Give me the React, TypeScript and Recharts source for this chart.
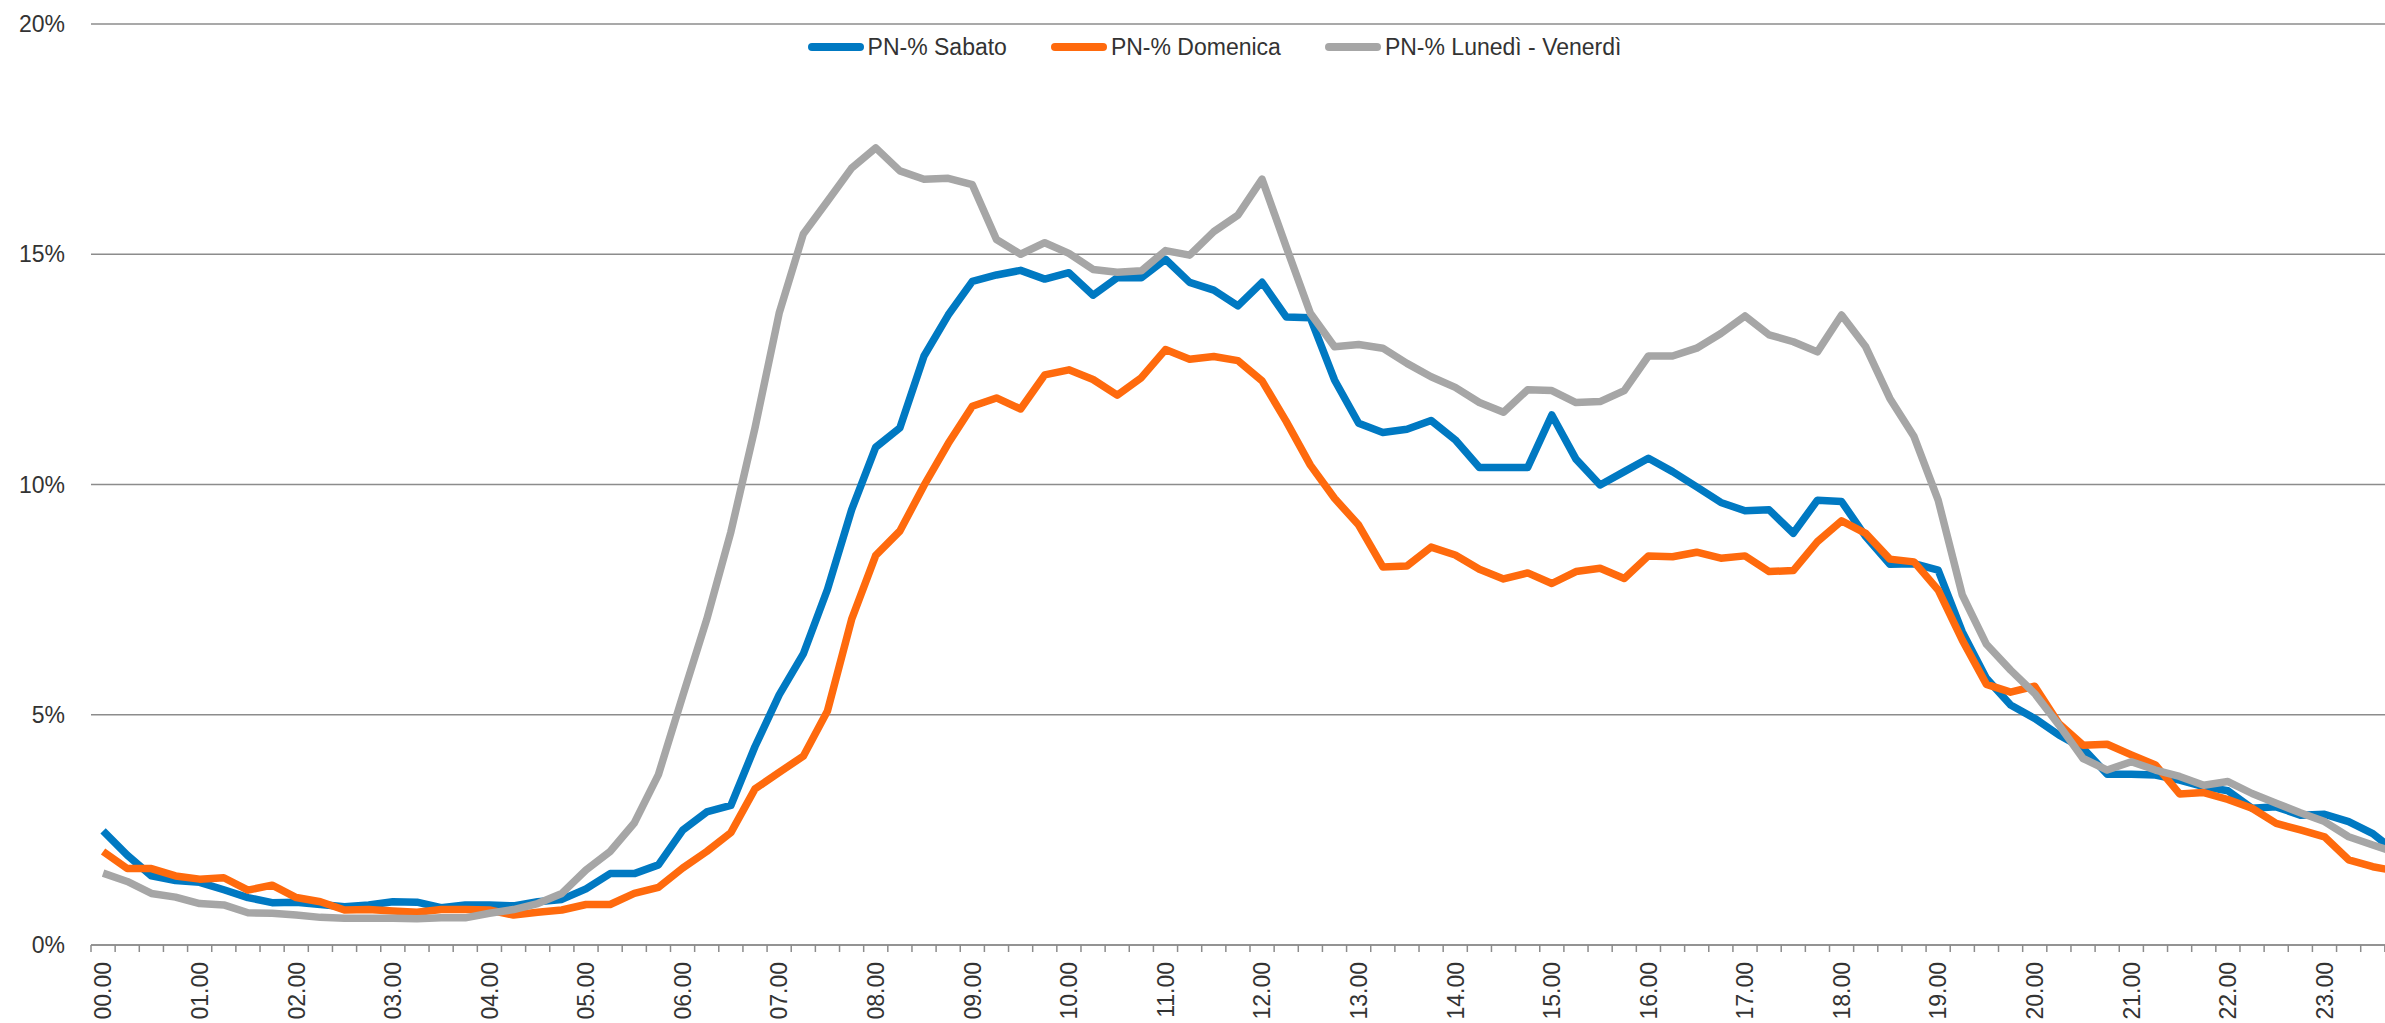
import { LineChart, Line, XAxis, YAxis, CartesianGrid, Legend } from 'recharts';

const FONT = '"Liberation Sans", Arial, sans-serif';

// quarter-hour slots 00.00 ... 23.45
const TIMES = Array.from({ length: 96 }, (_, i) => {
  const h = String(Math.floor(i / 4)).padStart(2, '0');
  const m = String((i % 4) * 15).padStart(2, '0');
  return `${h}.${m}`;
});

const SABATO = [
  2.48, 1.95, 1.5, 1.4, 1.36, 1.2, 1.03, 0.92, 0.93, 0.88, 0.83, 0.87, 0.94, 0.93, 0.81, 0.87,
  0.87, 0.85, 0.94, 0.99, 1.22, 1.55, 1.55, 1.74, 2.49, 2.89, 3.03, 4.31, 5.43, 6.32, 7.72, 9.45,
  10.81, 11.23, 12.79, 13.68, 14.41, 14.55, 14.65, 14.46, 14.6, 14.11, 14.49, 14.49, 14.89, 14.39, 14.22, 13.88,
  14.39, 13.64, 13.62, 12.27, 11.33, 11.13, 11.2, 11.39, 10.97, 10.37, 10.37, 10.37, 11.51, 10.55, 9.99, 10.28,
  10.57, 10.28, 9.95, 9.61, 9.43, 9.45, 8.94, 9.66, 9.63, 8.87, 8.27, 8.28, 8.14, 6.8, 5.79, 5.21,
  4.92, 4.56, 4.27, 3.71, 3.71, 3.69, 3.58, 3.44, 3.35, 2.97, 3.0, 2.82, 2.84, 2.68, 2.42, 2.0,
];

const DOMENICA = [
  2.03, 1.66, 1.66, 1.5, 1.43, 1.46, 1.19, 1.3, 1.03, 0.94, 0.76, 0.77, 0.74, 0.71, 0.77, 0.77,
  0.76, 0.65, 0.71, 0.76, 0.88, 0.88, 1.12, 1.25, 1.67, 2.03, 2.44, 3.39, 3.75, 4.1, 5.08, 7.07,
  8.46, 8.99, 9.98, 10.89, 11.7, 11.88, 11.64, 12.38, 12.49, 12.28, 11.94, 12.32, 12.93, 12.72, 12.78, 12.69,
  12.25, 11.37, 10.42, 9.7, 9.12, 8.21, 8.23, 8.64, 8.47, 8.16, 7.95, 8.08, 7.85, 8.11, 8.18, 7.96,
  8.45, 8.43, 8.53, 8.4, 8.45, 8.11, 8.13, 8.76, 9.21, 8.94, 8.38, 8.32, 7.71, 6.62, 5.66, 5.49,
  5.62, 4.81, 4.34, 4.36, 4.13, 3.91, 3.28, 3.31, 3.16, 2.97, 2.64, 2.5, 2.35, 1.85, 1.7, 1.6,
];

const LUN_VEN = [
  1.56, 1.38, 1.12, 1.04, 0.9, 0.87, 0.7, 0.69, 0.65, 0.6, 0.58, 0.58, 0.58, 0.57, 0.59, 0.59,
  0.69, 0.77, 0.9, 1.12, 1.63, 2.03, 2.65, 3.7, 5.4, 7.07, 8.97, 11.23, 13.72, 15.44, 16.15, 16.87,
  17.31, 16.81, 16.63, 16.65, 16.51, 15.32, 15.0, 15.25, 15.02, 14.67, 14.61, 14.64, 15.08, 14.98, 15.49, 15.85,
  16.63, 15.16, 13.72, 12.99, 13.04, 12.96, 12.63, 12.34, 12.11, 11.78, 11.57, 12.06, 12.04, 11.78, 11.8, 12.04,
  12.79, 12.79, 12.96, 13.28, 13.66, 13.25, 13.1, 12.88, 13.68, 12.99, 11.87, 11.04, 9.66, 7.6, 6.53, 5.97,
  5.46, 4.78, 4.05, 3.8, 3.98, 3.8, 3.66, 3.47, 3.55, 3.29, 3.08, 2.87, 2.68, 2.35, 2.17, 2.0,
];

const Y_TICKS = [0, 5, 10, 15, 20];

const SERIES = [
  { key: 'sabato', name: 'PN-% Sabato', color: '#0079C2' },
  { key: 'domenica', name: 'PN-% Domenica', color: '#FF6A0D' },
  { key: 'lunven', name: 'PN-% Lunedì - Venerdì', color: '#A6A6A6' },
];

const data = TIMES.map((t, i) => ({
  idx: i,
  time: t,
  sabato: SABATO[i],
  domenica: DOMENICA[i],
  lunven: LUN_VEN[i],
}));

const CHART_W = 2422;
const CHART_H = 1023;
const MARGIN = { top: 24, right: 13, bottom: 0, left: 0 };
const Y_AXIS_W = 91;
const X_AXIS_H = 78;
const BAND = (CHART_W - MARGIN.right - Y_AXIS_W) / TIMES.length;

// tick marks sit between slots, labels only on the full hour
const TimeTick = (props: any) => {
  const { x, y, payload } = props;
  const label = TIMES[payload.value];
  const bx = x - BAND / 2;
  return (
    <g>
      <line x1={bx} y1={y} x2={bx} y2={y + 7} stroke="#8c8c8c" strokeWidth={1.5} />
      {label && label.endsWith('.00') && (
        <text
          x={x}
          y={y + 17}
          transform={`rotate(-90, ${x}, ${y + 17})`}
          textAnchor="end"
          dy="0.36em"
          fontSize={23}
          fontFamily={FONT}
          fill="#333"
        >
          {label}
        </text>
      )}
    </g>
  );
};

const renderLegend = () => (
  <div style={{ display: 'flex', justifyContent: 'center', alignItems: 'center', fontFamily: FONT, fontSize: 23, color: '#333', lineHeight: '26px' }}>
    {SERIES.map((s, i) => (
      <div key={s.key} style={{ display: 'flex', alignItems: 'center', marginRight: i < SERIES.length - 1 ? 44 : 0 }}>
        <span style={{ display: 'inline-block', width: 56, height: 8, borderRadius: 4, background: s.color, marginRight: 4 }} />
        <span>{s.name}</span>
      </div>
    ))}
  </div>
);

export default function App() {
  return (
    <div style={{ position: 'absolute', left: 0, top: 0, width: 2385, height: 1023, overflow: 'hidden', background: '#fff' }}>
      <LineChart width={CHART_W} height={CHART_H} data={data} margin={MARGIN}>
        <CartesianGrid vertical={false} stroke="#8c8c8c" strokeWidth={1.3} />
        <XAxis
          dataKey="idx"
          type="number"
          domain={[-0.5, TIMES.length - 0.5]}
          ticks={TIMES.map((_, i) => i)}
          interval={0}
          height={X_AXIS_H}
          tickLine={false}
          tickSize={0}
          tickMargin={0}
          axisLine={{ stroke: '#8c8c8c', strokeWidth: 1.5 }}
          tick={<TimeTick />}
        />
        <YAxis
          domain={[0, 20]}
          ticks={Y_TICKS}
          width={Y_AXIS_W}
          axisLine={false}
          tickLine={false}
          tickMargin={20}
          tickFormatter={(v: number) => `${v}%`}
          tick={{ fontSize: 23, fontFamily: FONT, fill: '#333' }}
        />
        <Legend
          layout="horizontal"
          verticalAlign="middle"
          align="center"
          content={renderLegend}
          wrapperStyle={{ top: 34, left: 0, width: 2429 }}
        />
        {SERIES.map((s) => (
          <Line
            key={s.key}
            type="linear"
            dataKey={s.key}
            name={s.name}
            stroke={s.color}
            strokeWidth={7.5}
            strokeLinejoin="round"
            dot={false}
            activeDot={false}
            isAnimationActive={false}
          />
        ))}
      </LineChart>
    </div>
  );
}
